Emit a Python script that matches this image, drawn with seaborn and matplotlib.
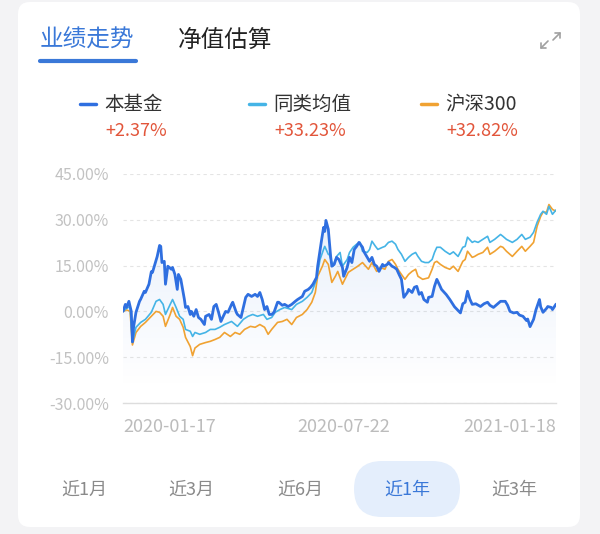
import numpy as np
import pandas as pd
import matplotlib
matplotlib.use("Agg")
import matplotlib.pyplot as plt
import seaborn as sns
from matplotlib.patches import FancyBboxPatch
from matplotlib.lines import Line2D

# ---------------- data (day offset from 2020-01-17, cumulative return %) ----------------
fund_day = [0, 2, 3, 5, 7, 8, 9, 11, 14, 15, 18, 19, 22, 24, 25, 27, 29, 31, 32, 33, 35, 36, 38,
            41, 42, 44, 46, 47, 49, 52, 53, 55, 57, 58, 60, 62, 64, 66, 69, 70, 73, 75, 77, 79,
            81, 83, 85, 87, 89, 92, 93, 96, 97, 100, 102, 104, 106, 109, 112, 114, 116, 118, 120,
            122, 124, 126, 128, 131, 132, 135, 137, 140, 143, 146, 148, 152, 154, 157, 159, 161,
            164, 165, 168, 170, 171, 172, 174, 175, 176, 177, 179, 181, 183, 186, 187, 190, 192,
            194, 196, 198, 200, 203, 204, 207, 209, 211, 213, 215, 217, 220, 221, 224, 225, 228,
            230, 232, 234, 236, 238, 241, 242, 245, 247, 249, 251, 253, 255, 258, 259, 262, 264,
            266, 268, 270, 274, 277, 281, 286, 288, 290, 292, 294, 296, 299, 303, 306, 309, 311,
            314, 317, 320, 324, 326, 328, 331, 334, 336, 339, 342, 343, 345, 348, 350, 353, 354,
            356, 359, 360, 363, 364, 367]
fund_ret = [0.0, 2.3, 1.3, 3.3, 0.0, -10.0, -5.0, -0.3, 3.3, 4.0, 6.6, 6.2, 8.9, 13.0, 12.8, 15.4,
            18.0, 21.6, 21.3, 16.0, 16.4, 8.9, 14.8, 13.8, 14.4, 12.1, 7.2, 12.1, 10.5, 4.0, 1.3,
            1.6, -1.0, 0.0, -1.6, 0.6, -2.0, -2.6, -4.3, -1.6, -1.0, -2.6, 1.6, 2.3, -0.3, -3.3,
            -1.6, 0.0, -0.3, 2.3, 3.0, -0.3, -1.0, -2.0, 1.3, 4.6, 5.6, 4.9, 5.6, 4.9, 6.2, 3.9,
            0.6, 1.6, -1.0, -1.0, -0.3, 3.0, 3.0, 2.0, 2.3, 1.6, 2.3, 3.3, 3.9, 4.9, 6.6, 7.2, 7.9,
            8.9, 11.1, 14.8, 22.6, 27.5, 26.2, 29.8, 26.9, 22.6, 18.0, 14.8, 15.4, 17.7, 17.0,
            14.4, 11.5, 14.4, 17.7, 16.0, 20.3, 21.3, 22.6, 21.0, 19.7, 17.7, 16.4, 17.7, 15.4,
            14.8, 13.1, 15.4, 14.8, 15.4, 16.0, 14.8, 14.4, 13.8, 12.1, 10.5, 4.6, 6.2, 7.2, 6.2,
            7.9, 8.2, 5.6, 6.2, 3.9, 3.0, 4.6, 4.9, 8.2, 10.5, 8.9, 7.2, 5.5, 3.9, 1.5, -0.5, 2.5,
            3.0, 6.6, 4.0, 2.3, 2.5, 1.6, 2.5, 3.0, 2.0, 1.3, 2.3, 3.3, 3.3, 2.0, 0.0, -0.5, -0.3,
            -1.2, -1.6, -3.0, -2.5, -5.0, -2.6, 0.5, 3.9, 1.5, -0.3, 1.0, 1.6, 1.3, 0.6, 2.37]

peer_day = [0, 3, 6, 8, 11, 15, 19, 24, 28, 31, 34, 36, 40, 42, 45, 48, 51, 53, 57, 59, 61, 65, 70,
            74, 78, 82, 86, 92, 97, 102, 106, 110, 114, 119, 122, 126, 129, 133, 137, 143, 147,
            152, 156, 160, 164, 167, 170, 171, 174, 175, 178, 181, 184, 186, 190, 192, 195, 198,
            201, 203, 207, 209, 211, 214, 216, 220, 222, 225, 228, 231, 233, 236, 239, 242, 245,
            248, 250, 253, 256, 259, 262, 264, 266, 269, 273, 277, 280, 284, 288, 290, 292, 296,
            298, 301, 305, 309, 311, 315, 320, 322, 325, 330, 334, 338, 341, 345, 348, 351, 354,
            356, 359, 361, 364, 367]
peer_ret = [0.0, 1.0, 1.6, -10.0, -5.2, -3.6, -2.6, -0.3, 3.3, 3.9, 2.3, -1.0, 2.3, 3.9, 1.3, -1.6,
            -2.6, -5.9, -6.5, -8.2, -6.9, -7.5, -6.9, -5.9, -5.9, -5.2, -4.3, -3.3, -4.9, -2.6,
            -1.6, -1.0, -1.6, -1.0, -2.6, -2.0, -0.3, 0.6, 1.3, 0.6, 2.3, 3.3, 4.6, 6.2, 10.5,
            17.0, 20.3, 21.3, 18.7, 18.5, 14.8, 18.0, 19.3, 14.8, 17.0, 19.3, 21.0, 22.0, 22.6,
            19.7, 19.3, 20.3, 23.0, 21.3, 20.3, 21.0, 21.3, 22.6, 23.0, 22.0, 20.3, 18.7, 16.4,
            17.7, 18.7, 19.3, 18.0, 16.4, 16.0, 16.0, 17.0, 19.3, 21.0, 21.0, 19.7, 18.7, 19.5,
            18.0, 21.0, 21.3, 24.3, 22.6, 23.0, 22.6, 23.6, 24.6, 22.6, 23.6, 25.2, 24.6, 23.6,
            22.6, 23.6, 25.2, 23.6, 24.3, 25.9, 29.2, 31.8, 32.8, 31.8, 34.4, 31.8, 33.23]

hs_day = [0, 3, 6, 8, 11, 15, 19, 24, 28, 31, 34, 36, 40, 42, 45, 48, 51, 53, 57, 59, 61, 65, 70,
          74, 78, 82, 86, 91, 95, 99, 103, 108, 112, 116, 120, 123, 126, 131, 135, 139, 143, 147,
          152, 156, 160, 163, 165, 169, 171, 174, 177, 180, 182, 186, 191, 195, 199, 203, 208,
          211, 215, 218, 222, 225, 228, 231, 233, 236, 239, 242, 245, 248, 250, 254, 259, 262,
          264, 266, 269, 273, 277, 280, 284, 288, 290, 292, 296, 298, 301, 305, 309, 311, 315,
          320, 322, 325, 330, 334, 338, 341, 345, 348, 351, 354, 356, 359, 361, 364, 367]
hs_ret = [0.0, 0.5, 0.0, -11.0, -6.9, -4.9, -3.6, -1.6, 0.0, -0.3, -1.6, -4.9, -1.0, 1.3, -1.6,
          -2.6, -5.2, -8.5, -11.5, -14.5, -12.0, -10.8, -10.2, -9.8, -9.2, -8.5, -6.9, -8.2, -6.9,
          -7.5, -5.9, -4.9, -5.2, -4.3, -5.2, -7.5, -5.9, -3.6, -3.3, -2.6, -4.3, -2.0, -1.0, 0.6,
          3.0, 6.2, 11.5, 14.8, 17.0, 15.4, 9.5, 11.5, 13.1, 8.9, 12.8, 13.8, 14.8, 16.0, 13.8,
          16.0, 13.1, 14.4, 13.8, 16.4, 17.0, 15.4, 13.8, 12.1, 10.5, 12.1, 13.1, 13.8, 11.5,
          10.5, 11.0, 13.8, 16.0, 16.4, 15.4, 14.4, 13.8, 14.8, 13.1, 16.4, 17.0, 19.7, 17.7,
          18.0, 18.7, 19.3, 21.0, 18.7, 19.7, 21.3, 21.0, 19.7, 18.0, 19.7, 21.3, 19.7, 21.3,
          22.6, 27.9, 31.1, 32.5, 32.5, 35.0, 33.4, 32.82]

series_names = ["本基金", "同类均值", "沪深300"]
series_totals = ["+2.37%", "+33.23%", "+32.82%"]
y_ticks = [-30, -15, 0, 15, 30, 45]
x_tick_days = [0, 187, 367]
x_tick_labels = ["2020-01-17", "2020-07-22", "2021-01-18"]
tabs = ["业绩走势", "净值估算"]
periods = ["近1月", "近3月", "近6月", "近1年", "近3年"]
active_period = "近1年"

# ---------------- style ----------------
sns.set_theme(style="white")
plt.rcParams["font.family"] = ["Noto Sans CJK SC", "DejaVu Sans"]

C_FUND = "#2f6fe0"
C_PEER = "#45b4e6"
C_HS = "#f0a232"
C_RED = "#e2553a"
C_TAB = "#3a78d8"
C_GREY_TXT = "#c2c2c2"

W, H = 600, 534
fig = plt.figure(figsize=(6.0, 5.34), dpi=100)
fig.patch.set_facecolor("#f3f3f5")


def fx(x):
    return x / W


def fy(y):
    return 1 - y / H


# white card
card = FancyBboxPatch((18 / 100, 7 / 100), (580 - 18) / 100, (532 - 7) / 100,
                      boxstyle="round,pad=0,rounding_size=0.12",
                      transform=fig.dpi_scale_trans, facecolor="white", edgecolor="none", zorder=0)
fig.add_artist(card)

# tabs
fig.text(fx(40), fy(40), tabs[0], fontsize=17, color=C_TAB, ha="left", va="center")
fig.text(fx(178), fy(40), tabs[1], fontsize=17, color="#222222", ha="left", va="center")
fig.add_artist(Line2D([fx(40), fx(136)], [fy(61), fy(61)], transform=fig.transFigure,
                      color=C_TAB, linewidth=3, solid_capstyle="round"))

# expand icon
ic = "#a0a0a0"
for xs, ys in [([553, 560], [40, 33]), ([555, 560, 560], [33, 33, 38]),
               ([541, 548], [48, 41]), ([541, 541, 546], [43, 48, 48])]:
    fig.add_artist(Line2D([fx(v) for v in xs], [fy(v) for v in ys], transform=fig.transFigure,
                          color=ic, linewidth=1.2))

# legend
leg_x = [80, 249, 421]
colors = [C_FUND, C_PEER, C_HS]
for lx, name, tot, c in zip(leg_x, series_names, series_totals, colors):
    fig.add_artist(Line2D([fx(lx), fx(lx + 16)], [fy(104), fy(104)], transform=fig.transFigure,
                          color=c, linewidth=2.5))
    fig.text(fx(lx + 24), fy(104), name, fontsize=14, color="#333333", ha="left", va="center")
    fig.text(fx(lx + 25), fy(131), tot, fontsize=13, color=C_RED, ha="left", va="center")

# ---------------- chart ----------------
ax = fig.add_axes([fx(123), fy(403), fx(556) - fx(123), fy(174) - fy(403)])
ax.set_facecolor("none")

fund_df = pd.DataFrame({"day": fund_day, "ret": fund_ret})
peer_df = pd.DataFrame({"day": peer_day, "ret": peer_ret})
hs_df = pd.DataFrame({"day": hs_day, "ret": hs_ret})

# gradient area under the fund line
area = ax.fill_between(fund_df["day"], fund_df["ret"], -30, color="none", linewidth=0)
grad = np.zeros((256, 1, 4))
grad[:, 0, :3] = matplotlib.colors.to_rgb("#3a7be0")
grad[:, 0, 3] = np.linspace(0.14, 0.0, 256) ** 1.1
img = ax.imshow(grad, extent=[0, 367, -26, max(fund_ret)], aspect="auto", origin="upper",
                zorder=1, interpolation="bilinear")
img.set_clip_path(area.get_paths()[0], transform=ax.transData)

sns.lineplot(data=hs_df, x="day", y="ret", ax=ax, color=C_HS, linewidth=1.2,
             estimator=None, zorder=3)
sns.lineplot(data=peer_df, x="day", y="ret", ax=ax, color=C_PEER, linewidth=1.2,
             estimator=None, zorder=4)
sns.lineplot(data=fund_df, x="day", y="ret", ax=ax, color=C_FUND, linewidth=2.0,
             estimator=None, zorder=5)

ax.set_xlim(0, 367)
ax.set_ylim(-30, 45)
ax.set_xlabel("")
ax.set_ylabel("")

for s in ["top", "right", "left"]:
    ax.spines[s].set_visible(False)
ax.spines["bottom"].set_color("#dddddd")
ax.spines["bottom"].set_linewidth(1.0)

ax.set_yticks(y_ticks)
ax.set_yticklabels([f"{v:.2f}%" for v in y_ticks])
ax.yaxis.grid(True, linestyle=(0, (3, 3)), color="#e4e4e4", linewidth=0.8)
ax.xaxis.grid(False)
ax.tick_params(axis="y", length=0, pad=10, labelsize=11.5, labelcolor=C_GREY_TXT)

ax.set_xticks(x_tick_days)
ax.set_xticklabels(x_tick_labels)
ax.tick_params(axis="x", which="major", length=0, pad=11, labelsize=13, labelcolor="#bcbcbc")
ax.set_xticks([0, 367], minor=True)
ax.tick_params(axis="x", which="minor", length=5, width=1, color="#dddddd")
xl = ax.get_xticklabels()
xl[0].set_ha("left")
xl[-1].set_ha("right")

# ---------------- period selector ----------------
centers = [84, 191, 300, 407, 514]
for cx, lab in zip(centers, periods):
    if lab == active_period:
        pill = FancyBboxPatch(((cx - 53) / 100, (534 - 517) / 100), 106 / 100, 56 / 100,
                              boxstyle="round,pad=0,rounding_size=0.28",
                              transform=fig.dpi_scale_trans, facecolor="#e4eefc",
                              edgecolor="none", zorder=1)
        fig.add_artist(pill)
        fig.text(fx(cx), fy(490), lab, fontsize=13, color=C_TAB, ha="center", va="center")
    else:
        fig.text(fx(cx), fy(490), lab, fontsize=13, color="#8a8a8a", ha="center", va="center")

fig.savefig("out.png", dpi=100)
